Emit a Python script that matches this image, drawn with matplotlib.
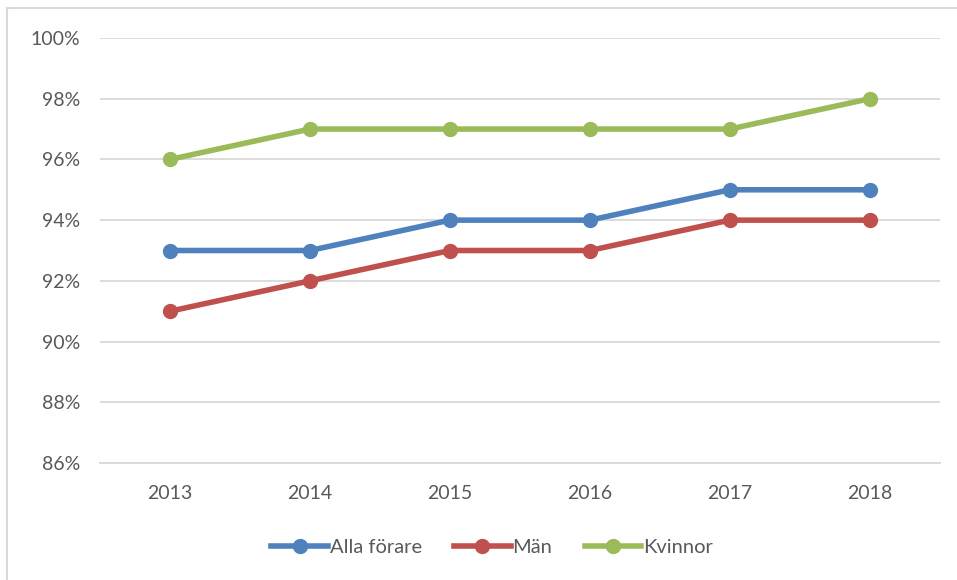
import matplotlib.pyplot as plt
from matplotlib.lines import Line2D
from matplotlib.ticker import FuncFormatter

years = ['2013', '2014', '2015', '2016', '2017', '2018']
alla = [93, 93, 94, 94, 95, 95]
man = [91, 92, 93, 93, 94, 94]
kvinnor = [96, 97, 97, 97, 97, 98]

plt.rcParams['font.family'] = ['Lato', 'DejaVu Sans']
txt = '#595959'

fig = plt.figure(figsize=(9.57, 5.8), dpi=100)
ax = fig.add_axes([0.1045, 0.2017, 0.8775, 0.7328])

x = range(len(years))
ax.plot(x, alla, '-o', color='#4F81BD', lw=4, ms=10, label='Alla förare', zorder=3)
ax.plot(x, man, '-o', color='#C0504D', lw=4, ms=10, label='Män', zorder=3)
ax.plot(x, kvinnor, '-o', color='#9BBB59', lw=4, ms=10, label='Kvinnor', zorder=3)

ax.set_xlim(-0.5, 5.5)
ax.set_ylim(86, 100)
ax.set_yticks(range(86, 101, 2))
ax.yaxis.set_major_formatter(FuncFormatter(lambda v, p: '%d%%' % v))
ax.set_xticks(list(x))
ax.set_xticklabels(years)
ax.grid(axis='y', color='#D9D9D9', lw=1.3)
ax.set_axisbelow(True)
for s in ['top', 'right', 'left']:
    ax.spines[s].set_visible(False)
ax.spines['bottom'].set_color('#D9D9D9')
ax.spines['bottom'].set_linewidth(1.3)
ax.tick_params(length=0, labelsize=14, labelcolor=txt)
ax.tick_params(axis='y', pad=14)
ax.tick_params(axis='x', pad=16)

ax.legend(loc='upper center', bbox_to_anchor=(0.467, -0.135), ncol=3, frameon=False,
          fontsize=14.5, labelcolor=txt, handlelength=2.8, handletextpad=0.1,
          columnspacing=1.6)

# outer border (only top and left visible in the reference crop)
fig.add_artist(Line2D([0.0073, 0.0073], [0, 0.986], color='#D9D9D9', lw=1.5))
fig.add_artist(Line2D([0.0073, 1], [0.986, 0.986], color='#D9D9D9', lw=1.5))

fig.savefig('out.png', dpi=100)
